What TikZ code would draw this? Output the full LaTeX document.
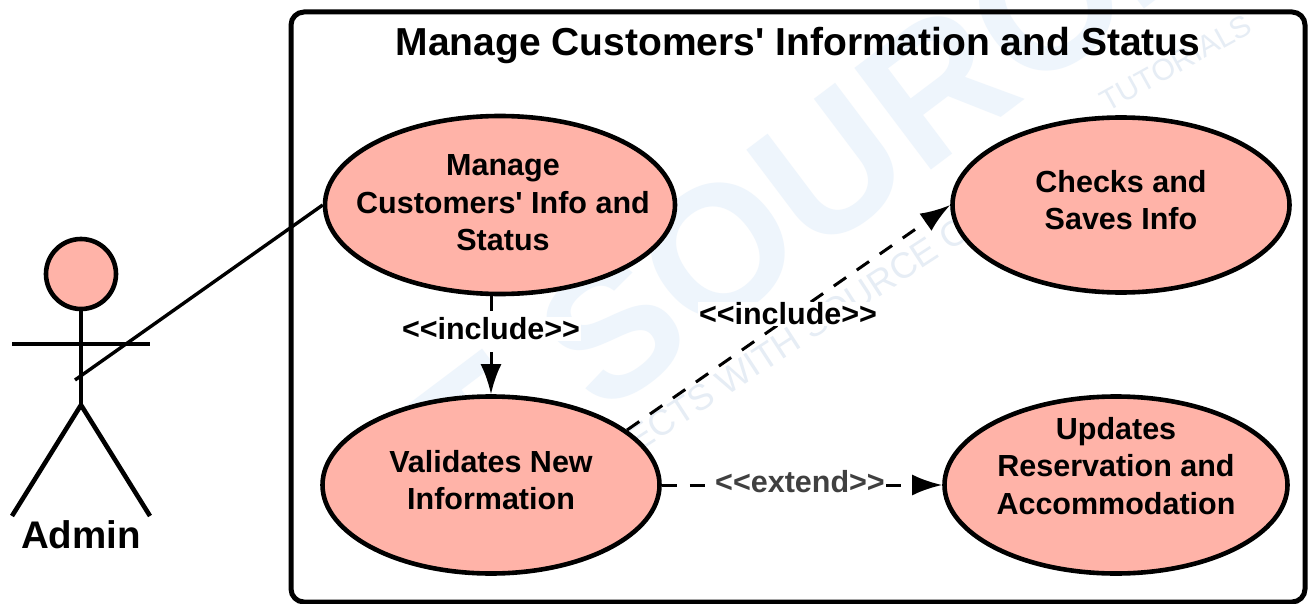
\documentclass[tikz,border=0pt]{standalone}
\usepackage{fontspec}
\setmainfont[Ligatures=TeXOff]{Liberation Sans}
\usetikzlibrary{arrows.meta,shapes.geometric}
\definecolor{salmon}{HTML}{FFB3A8}
\definecolor{wm}{HTML}{EEF5FC}
\definecolor{wmsmall}{HTML}{E6EDF5}
\tikzset{
  x=1pt,y=-1pt,
  usecase/.style={ellipse,draw=black,line width=4.6pt,fill=salmon,inner sep=0pt},
  casetext/.style={align=center,inner sep=0pt,font=\fontsize{30.5}{37.5}\selectfont\bfseries},
  actorline/.style={draw=black,line width=4.6pt},
  dep/.style={draw=black,line width=3pt,dash pattern=on 15pt off 13pt,-{Latex[length=30pt,width=21pt]}},
  lbl/.style={font=\fontsize{30.5}{34}\selectfont\bfseries,fill=white,inner sep=1pt}
}
\begin{document}
\begin{tikzpicture}
\useasboundingbox (0,0) rectangle (1308,604);
\fill[white] (0,0) rectangle (1308,604);
\clip (0,0) rectangle (1308,604);
\node[rotate=37,anchor=west,text=wm,font=\fontsize{185}{185}\selectfont\bfseries] (mark) at (388,500) {IT SOURCECODE};
\node[rotate=33,text=wmsmall,font=\fontsize{36}{36}\selectfont] (mark2) at (790,340) {PROJECTS WITH SOURCE CODE};
\node[rotate=29,text=wmsmall,font=\fontsize{30}{30}\selectfont] (mark3) at (1176,63) {TUTORIALS};
\draw[black,line width=5pt,rounded corners=13pt] (291,12) rectangle (1305,602);
\node[font=\fontsize{39}{44}\selectfont\bfseries] (title) at (798,46) {Manage Customers' Information and Status};
\node[usecase,minimum width=350pt,minimum height=178pt] (m) at (500,205) {};
\node[usecase,minimum width=337pt,minimum height=175pt] (c) at (1121,205) {};
\node[usecase,minimum width=337pt,minimum height=177pt] (v) at (491,485) {};
\node[usecase,minimum width=343pt,minimum height=177pt] (u) at (1116,485) {};
\node[casetext] (mt) at (503,203) {Manage\\Customers' Info and\\Status};
\node[casetext] (ct) at (1121,200) {Checks and\\Saves Info};
\node[casetext] (vt) at (491,480) {Validates New\\Information};
\node[casetext] (ut) at (1116,466) {Updates\\Reservation and\\Accommodation};
\node[circle,draw=black,line width=4.6pt,fill=salmon,minimum size=70pt,inner sep=0pt] (head) at (81,274) {};
\coordinate (hip) at (81,405);
\coordinate (armL) at (12,344);
\coordinate (armR) at (150,344);
\coordinate (footL) at (12,516);
\coordinate (footR) at (150,516);
\coordinate (hand) at (75,380);
\draw[actorline] (head) -- (hip);
\draw[actorline] (armL) -- (armR);
\draw[actorline] (footL) -- (hip) -- (footR);
\draw[black,line width=3.4pt] (hand) -- (m.west);
\node[font=\fontsize{38.5}{42}\selectfont\bfseries] (admin) at (81,535) {Admin};
\draw[dep] (m.south -| v.north) -- (v.north);
\draw[dep] (v.22) -- (c.west);
\draw[dep] (v.east) -- (u.west);
\node[lbl] (l1) at (491,329) {<{}<include>{}>};
\node[lbl] (l2) at (788,314) {<{}<include>{}>};
\node[lbl,text=black!75] (l3) at (800,482) {<{}<extend>{}>};
\end{tikzpicture}
\end{document}
